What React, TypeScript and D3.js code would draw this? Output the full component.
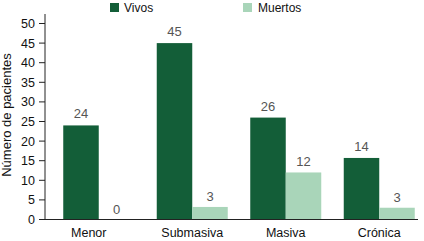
import React from "react";
import * as d3 from "d3";

const categories = ["Menor", "Submasiva", "Masiva", "Crónica"];
const vivos = [24, 45, 26, 15.7];
const muertos = [0, 3.2, 12, 3];
const vivosLabels = ["24", "45", "26", "14"];
const muertosLabels = ["0", "3", "12", "3"];
const yTicks = [0, 5, 10, 15, 20, 25, 30, 35, 40, 45, 50];
const seriesNames = ["Vivos", "Muertos"];
const colors = ["#135e38", "#a9d5b9"];

export default function App() {
  const W = 424, H = 241;
  const axisX = 45, axisRight = 418;
  const y = d3.scaleLinear().domain([0, 50]).range([219.5, 23.5]);
  const x = d3.scaleBand<string>().domain(categories).range([52, 426]).paddingInner(0).paddingOuter(0);
  const bw = 35.5;
  const font = "Liberation Sans, Arial, sans-serif";
  return (
    <svg width={W} height={H} style={{ position: "absolute", left: 0, top: 0, background: "#fff" }} fontFamily={font}>
      {/* legend */}
      <rect x={110} y={3} width={9} height={9} fill={colors[0]} />
      <text x={124} y={12} fontSize={12} fill="#111">{seriesNames[0]}</text>
      <rect x={243} y={3} width={9} height={9} fill={colors[1]} />
      <text x={258} y={12} fontSize={12} fill="#111">{seriesNames[1]}</text>
      {/* y axis label */}
      <text transform={`translate(11,115) rotate(-90)`} textAnchor="middle" fontSize={13} fill="#111">Número de pacientes</text>
      {/* y ticks */}
      {yTicks.map((t) => (
        <g key={t}>
          <line x1={39} x2={axisX} y1={y(t)} y2={y(t)} stroke="#222" />
          <text x={35} y={y(t) + 4.5} textAnchor="end" fontSize={12.5} fill="#111">{t}</text>
        </g>
      ))}
      {/* bars */}
      {categories.map((c, i) => {
        const cx = (x(c) as number) + x.bandwidth() / 2;
        return (
          <g key={c}>
            <rect x={cx - bw} y={y(vivos[i])} width={bw} height={y(0) - y(vivos[i])} fill={colors[0]} />
            <rect x={cx} y={y(muertos[i])} width={bw} height={y(0) - y(muertos[i])} fill={colors[1]} />
            <text x={cx - bw / 2} y={y(vivos[i]) - 7} textAnchor="middle" fontSize={13} fill="#555">{vivosLabels[i]}</text>
            <text x={cx + bw / 2} y={y(muertos[i]) - 6} textAnchor="middle" fontSize={13} fill="#555">{muertosLabels[i]}</text>
            <text x={cx - (i === 0 ? 10 : 0)} y={237} textAnchor="middle" fontSize={12.5} fill="#111">{c}</text>
          </g>
        );
      })}
      {/* axes */}
      <line x1={axisX} x2={axisX} y1={14} y2={y(0)} stroke="#222" />
      <line x1={axisX} x2={axisRight} y1={y(0)} y2={y(0)} stroke="#222" />
    </svg>
  );
}
